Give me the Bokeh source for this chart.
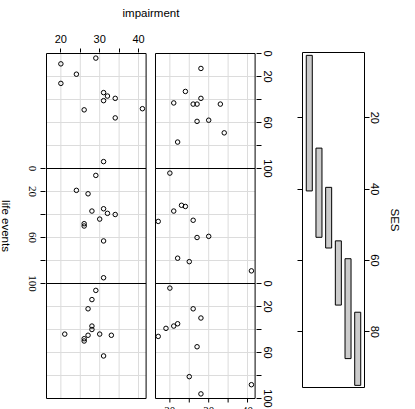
import math
from bokeh.plotting import figure
from bokeh.layouts import row
from bokeh.models import Range1d, LinearAxis, FixedTicker, LabelSet, Label, ColumnDataSource
from bokeh.embed import file_html
from bokeh.resources import INLINE

# ---------------- data ----------------
# panels: column 1 rows 1-3, column 2 rows 1-3
impairment_c1r1 = [29, 20, 24, 20, 31, 32, 31, 34, 26, 41, 34, 31]
life_events_c1r1 = [4, 9, 18, 26, 34, 37, 41, 39, 49, 48, 56, 94]
impairment_c1r2 = [29, 24, 27, 28, 31, 32, 34, 30, 26, 26, 31, 31]
life_events_c1r2 = [6, 19, 22, 37, 35, 39, 40, 44, 48, 50, 63, 95]
impairment_c1r3 = [29, 28, 27, 28, 28, 21, 27, 30, 33, 26, 26, 31]
life_events_c1r3 = [6, 14, 22, 37, 40, 44, 45, 44, 45, 48, 50, 63]
impairment_c2r1 = [28, 24, 21, 28, 26, 27, 33, 27, 30, 34, 22]
life_events_c2r1 = [13, 33, 43, 39, 44, 44, 44, 59, 58, 69, 77]
impairment_c2r2 = [20, 23, 24, 21, 17, 26, 27, 30, 22, 25, 41]
life_events_c2r2 = [4, 32, 33, 37, 46, 45, 60, 59, 78, 81, 89]
impairment_c2r3 = [20, 26, 28, 19, 21, 22, 17, 27, 25, 41, 28]
life_events_c2r3 = [4, 22, 30, 39, 37, 35, 46, 55, 81, 88, 96]

ses_interval = [1, 2, 3, 4, 5, 6]
ses_low = [2.5, 28.5, 39.5, 54.5, 59.5, 74.5]
ses_high = [40.5, 53.5, 56.5, 72.5, 87.5, 95.0]

impairment_ticks = [20, 30, 40]
impairment_minor = [25, 35]
life_ticks = [0, 20, 60, 100]
life_minor = [40, 80]
life_grid = [20, 40, 60, 80]
ses_ticks = [20, 40, 60, 80]

panels = [
    (0, 0, impairment_c1r1, life_events_c1r1),
    (0, 1, impairment_c1r2, life_events_c1r2),
    (0, 2, impairment_c1r3, life_events_c1r3),
    (1, 0, impairment_c2r1, life_events_c2r1),
    (1, 1, impairment_c2r2, life_events_c2r2),
    (1, 2, impairment_c2r3, life_events_c2r3),
]

# ---------------- geometry ----------------
FONT = "Liberation Sans"
TICK_SIZE = "11px"
TITLE_SIZE = "11.5px"
IMP_LO, IMP_HI = 16.3, 41.95
LE_LO, LE_HI = 0, 100
KX = 3.883          # px per impairment unit
KY = 1.15           # px per life-events unit
GAP_PX = 9.4
COL_SHIFT = (IMP_HI - IMP_LO) + GAP_PX / KX
ROW_SHIFT = LE_HI - LE_LO
LEFT_W = 40         # strip left of the panels that carries the row-2 labels
FW, FH = 211, 358
TOP = 51
x0 = IMP_LO - 1.0 / KX
y_top = LE_LO - 1.0 / KY
x_range = Range1d(x0, x0 + FW / KX)
y_range = Range1d(y_top + FH / KY, y_top)
SES_X = (0.3, 6.7)
SES_Y = (95.6, 1.7)
TICK_LEN = 4

GRID_COL = "#dcdcdc"
CW = -math.pi / 2   # text reading top to bottom


def style_axis(ax, tick_out, show_labels=True):
    ax.axis_line_color = None
    ax.major_tick_in = 0
    ax.minor_tick_in = 0
    ax.major_tick_out = tick_out
    ax.minor_tick_out = tick_out
    ax.major_tick_line_color = "black"
    ax.minor_tick_line_color = "black"
    ax.major_label_text_font = FONT
    ax.major_label_text_font_size = TICK_SIZE if show_labels else "0px"
    ax.major_label_text_color = "black"
    ax.axis_label_text_font = FONT
    ax.axis_label_text_font_size = TITLE_SIZE
    ax.axis_label_text_font_style = "normal"
    ax.axis_label_text_color = "black"
    if not show_labels:
        ax.major_label_standoff = 0


def hide_labels(ax, ticks):
    ax.major_label_overrides = {t: "" for t in ticks}


def text_set(fig, xs, ys, texts, dx=0, dy=0, angle=0, size=TICK_SIZE):
    src = ColumnDataSource(dict(x=xs, y=ys, text=texts))
    fig.add_layout(LabelSet(x="x", y="y", text="text", source=src, x_offset=dx, y_offset=dy,
                            angle=angle, text_align="center", text_baseline="middle",
                            text_font=FONT, text_font_size=size, text_color="black"))


# ---------------- main panels ----------------
p = figure(frame_width=FW, frame_height=FH, x_range=x_range, y_range=y_range,
           output_backend="svg", toolbar_location=None,
           x_axis_location=None, y_axis_location=None,
           min_border_left=5, min_border_right=22, min_border_top=TOP, min_border_bottom=0)
p.outline_line_color = None
p.grid.visible = False

# top axis (column 1)
top = LinearAxis(ticker=FixedTicker(ticks=impairment_ticks, minor_ticks=impairment_minor),
                 axis_label="impairment")
style_axis(top, TICK_LEN)
top.major_label_standoff = 6
top.axis_label_standoff = 13
p.add_layout(top, "above")

# left axis ticks (row 2); its labels sit in the strip figure
lt = [t + ROW_SHIFT for t in life_ticks]
left = LinearAxis(ticker=FixedTicker(ticks=lt, minor_ticks=[t + ROW_SHIFT for t in life_minor]))
style_axis(left, 5, show_labels=False)
hide_labels(left, lt)
p.add_layout(left, "left")

# right axis (rows 1 and 3)
rt = life_ticks + [t + 2 * ROW_SHIFT for t in life_ticks]
right = LinearAxis(ticker=FixedTicker(ticks=rt, minor_ticks=life_minor + [t + 2 * ROW_SHIFT for t in life_minor]))
style_axis(right, 5)
right.major_label_orientation = "parallel"
right.major_label_standoff = 2
right.major_label_overrides = {t + 2 * ROW_SHIFT: str(t) for t in life_ticks}
p.add_layout(right, "right")

# grid lines inside panels
sx0, sy0, sx1, sy1 = [], [], [], []
for c in range(2):
    xo = c * COL_SHIFT
    for t in impairment_ticks + impairment_minor:
        sx0.append(t + xo); sx1.append(t + xo)
        sy0.append(LE_LO); sy1.append(LE_LO + 3 * ROW_SHIFT)
    for r in range(3):
        for t in life_grid:
            sx0.append(IMP_LO + xo); sx1.append(IMP_HI + xo)
            sy0.append(t + r * ROW_SHIFT); sy1.append(t + r * ROW_SHIFT)
p.segment(x0=sx0, y0=sy0, x1=sx1, y1=sy1, line_color=GRID_COL, line_width=1)

# bottom ticks and labels (column 2)
bt = [t + COL_SHIFT for t in impairment_ticks + impairment_minor]
y_bot = LE_HI + 2 * ROW_SHIFT
p.segment(x0=bt, x1=bt, y0=[y_bot] * len(bt), y1=[y_bot + TICK_LEN / KY] * len(bt),
          line_color="black", line_width=1)
text_set(p, [t + COL_SHIFT for t in impairment_ticks], [y_bot] * len(impairment_ticks),
         [str(t) for t in impairment_ticks], dy=-12)

# panel borders
ql, qr, qt, qb = [], [], [], []
for c in range(2):
    for r in range(3):
        ql.append(IMP_LO + c * COL_SHIFT); qr.append(IMP_HI + c * COL_SHIFT)
        qt.append(LE_LO + r * ROW_SHIFT); qb.append(LE_HI + r * ROW_SHIFT)
p.quad(left=ql, right=qr, top=qt, bottom=qb, fill_color=None, line_color="black", line_width=1)

# points
for c, r, imp, le in panels:
    p.scatter(x=[v + c * COL_SHIFT for v in imp], y=[v + r * ROW_SHIFT for v in le],
              marker="circle", size=4.5, fill_color=None, line_color="black", line_width=1)

# ---------------- strip on the left: row-2 tick labels and the y title ----------------
lf = figure(frame_width=LEFT_W, frame_height=FH,
            x_range=Range1d(x0 - (LEFT_W + 5) / KX, x0 - 5 / KX), y_range=y_range,
            output_backend="svg", toolbar_location=None,
            x_axis_location=None, y_axis_location=None,
            min_border_left=0, min_border_right=0, min_border_top=TOP, min_border_bottom=0)
lf.grid.visible = False
lf.outline_line_color = None
text_set(lf, [IMP_LO] * len(lt), lt, [str(t) for t in life_ticks], dx=-14, angle=CW)
lf.add_layout(Label(x=IMP_LO, y=LE_LO + 1.5 * ROW_SHIFT, x_offset=-41, text="life events",
                    angle=CW, text_align="center", text_baseline="middle",
                    text_font=FONT, text_font_size=TITLE_SIZE, text_color="black"))

# ---------------- SES given panel ----------------
s = figure(frame_width=62, frame_height=335, x_range=Range1d(*SES_X), y_range=Range1d(*SES_Y),
           output_backend="svg", toolbar_location=None,
           x_axis_location=None, y_axis_location=None,
           min_border_left=24, min_border_right=51, min_border_top=52, min_border_bottom=22)
s.grid.visible = False
s.outline_line_color = "black"
s.outline_line_width = 1
s.outline_line_alpha = 1

sl = LinearAxis(ticker=FixedTicker(ticks=ses_ticks))
style_axis(sl, 5, show_labels=False)
hide_labels(sl, ses_ticks)
s.add_layout(sl, "left")

sr = LinearAxis(ticker=FixedTicker(ticks=ses_ticks), axis_label="SES")
style_axis(sr, 5)
sr.major_label_orientation = "parallel"
sr.major_label_standoff = 1
sr.axis_label_standoff = 7
s.add_layout(sr, "right")

s.vbar(x=ses_interval, width=0.62, top=ses_low, bottom=ses_high,
       fill_color="#cccccc", line_color="black", line_width=1)

layout = row(lf, p, s, spacing=0)
open("out.html", "w").write(file_html(layout, INLINE))
